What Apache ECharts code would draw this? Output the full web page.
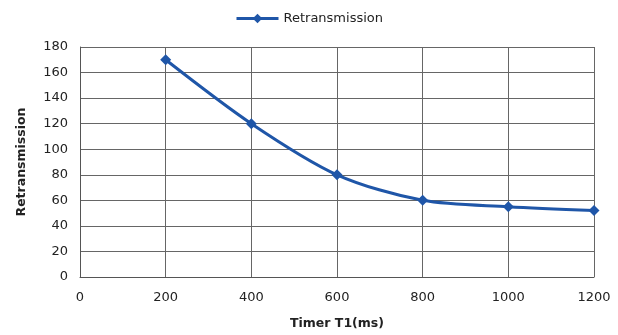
<!DOCTYPE html>
<html>
<head>
<meta charset="utf-8">
<script src="https://cdn.jsdelivr.net/npm/echarts@6/dist/echarts.min.js"></script>
<style>
  html, body { margin: 0; padding: 0; background: #fff; }
  #chart { width: 618px; height: 335px; }
</style>
</head>
<body>
<div id="chart"></div>
<script>
// Timer T1 values (ms) and the retransmission count at each
const timerT1 = [200, 400, 600, 800, 1000, 1200];
const retransmissions = [170, 120, 80, 60, 55, 52];
const seriesName = 'Retransmission';

const chart = echarts.init(document.getElementById('chart'));
const tickFont = { fontFamily: 'DejaVu Sans', fontSize: 13, color: '#222' };
const titleFont = { fontFamily: 'DejaVu Sans', fontSize: 12.5, fontWeight: 'bold', color: '#222' };

chart.setOption({
  animation: false,
  backgroundColor: '#fff',
  legend: {
    top: 7,
    left: 'center',
    itemWidth: 42,
    itemHeight: 12,
    itemGap: 6,
    lineStyle: { width: 3 },
    textStyle: { fontFamily: 'DejaVu Sans', fontSize: 13, color: '#222' },
    data: [seriesName]
  },
  grid: { left: 80, right: 24, top: 47, bottom: 58 },
  xAxis: {
    type: 'value',
    min: 0, max: 1200, interval: 200,
    name: 'Timer T1(ms)',
    nameLocation: 'middle',
    nameGap: 40,
    nameTextStyle: titleFont,
    axisLine: { lineStyle: { color: '#555', width: 1 } },
    axisTick: { show: false },
    axisLabel: Object.assign({ margin: 14, formatter: v => String(v) }, tickFont),
    splitLine: { show: true, lineStyle: { color: '#666', width: 1 } }
  },
  yAxis: {
    type: 'value',
    min: 0, max: 180, interval: 20,
    name: 'Retransmission',
    nameLocation: 'middle',
    nameGap: 52,
    nameTextStyle: titleFont,
    axisLine: { show: true, lineStyle: { color: '#555', width: 1 } },
    axisTick: { show: false },
    axisLabel: Object.assign({ margin: 12 }, tickFont),
    splitLine: { show: true, lineStyle: { color: '#666', width: 1 } }
  },
  series: [{
    name: seriesName,
    type: 'line',
    smooth: 0.3,
    data: timerT1.map((t, i) => [t, retransmissions[i]]),
    symbol: 'diamond',
    symbolSize: 11,
    lineStyle: { color: '#1f56a8', width: 3 },
    itemStyle: { color: '#1f56a8' }
  }]
});
</script>
</body>
</html>
